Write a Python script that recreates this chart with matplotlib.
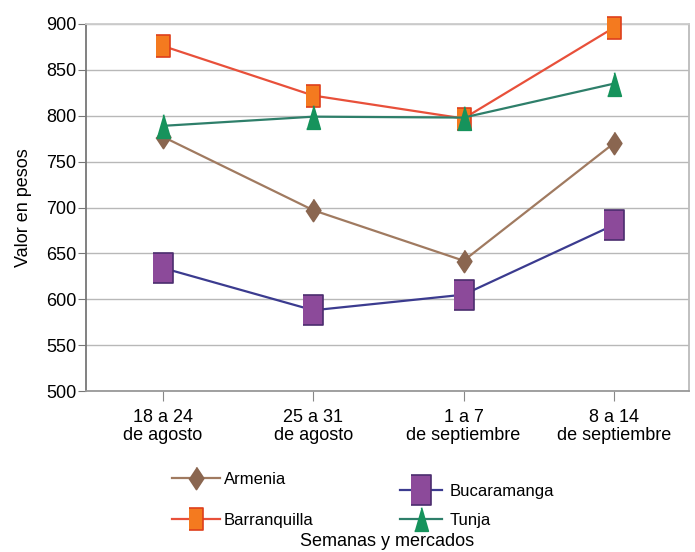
import matplotlib.pyplot as plt
import numpy as np
from matplotlib.lines import Line2D

plt.rcParams['font.family'] = ['Liberation Sans', 'DejaVu Sans']

semanas = ['18 a 24\nde agosto', '25 a 31\nde agosto',
           '1 a 7\nde septiembre', '8 a 14\nde septiembre']
armenia = [777, 697, 642, 770]
barranquilla = [876, 822, 797, 896]
bucaramanga = [634, 588, 605, 681]
tunja = [789, 799, 798, 835]
y_ticks = [500, 550, 600, 650, 700, 750, 800, 850, 900]

# tall, narrow marker shapes like the source picture
diamond = [(0, 1), (0.66, 0), (0, -1), (-0.66, 0)]
rect = [(-0.66, -1), (0.66, -1), (0.66, 1), (-0.66, 1)]
tri = [(0, 1), (0.58, -1), (-0.58, -1)]

series = [
    ('Armenia', armenia, '#a07a60', diamond, '#8a6650', '#8a6650', 16),
    ('Barranquilla', barranquilla, '#e8503a', rect, '#f47a1f', '#de3f1c', 16),
    ('Bucaramanga', bucaramanga, '#3b3b8f', rect, '#8c4a9a', '#4b2d6e', 22),
    ('Tunja', tunja, '#2e7f6a', tri, '#16935c', '#16935c', 17),
]

fig = plt.figure(figsize=(6.95, 5.52), dpi=100)
ax = fig.add_axes([86/695, 1-391/552, (689-86)/695, (391-24)/552])

x = np.arange(len(semanas))
handles = {}
for name, vals, lc, mk, fc, ec, ms in series:
    h, = ax.plot(x, vals, color=lc, lw=1.6, marker=mk, markersize=ms,
                 markerfacecolor=fc, markeredgecolor=ec, markeredgewidth=1.2,
                 clip_on=False, zorder=3)
    handles[name] = h

ax.set_xlim(-0.513, 3.5)
ax.set_ylim(500, 900)
ax.set_yticks(y_ticks)
ax.set_xticks(x)
ax.set_xticklabels(semanas, fontsize=13, linespacing=1.05)
ax.tick_params(axis='y', labelsize=13, length=6, color='#777777', pad=1)
ax.tick_params(axis='x', length=7, color='#888888', pad=6)
ax.yaxis.grid(True, color='#b8b8b8', lw=1)
ax.set_axisbelow(True)
for s, c in [('left', '#777777'), ('bottom', '#999999'),
             ('right', '#bbbbbb'), ('top', '#cccccc')]:
    ax.spines[s].set_color(c)
    ax.spines[s].set_linewidth(1.3)

ax.set_ylabel('Valor en pesos', fontsize=13, labelpad=10)
fig.text(387/695, 1-542/552, 'Semanas y mercados', fontsize=13,
         ha='center', va='center')

fig.legend([handles['Armenia'], handles['Barranquilla']],
           ['Armenia', 'Barranquilla'], loc='upper left',
           bbox_to_anchor=(172/695, 1-472/552), frameon=False, fontsize=12,
           handlelength=2.9, handletextpad=0.2, labelspacing=1.55,
           borderpad=0, borderaxespad=0, numpoints=1)
fig.legend([handles['Bucaramanga'], handles['Tunja']],
           ['Bucaramanga', 'Tunja'], loc='upper left',
           bbox_to_anchor=(400/695, 1-484/552), frameon=False, fontsize=12,
           handlelength=2.5, handletextpad=0.45, labelspacing=0.82,
           borderpad=0, borderaxespad=0, numpoints=1)

fig.savefig('out.png', dpi=100)
